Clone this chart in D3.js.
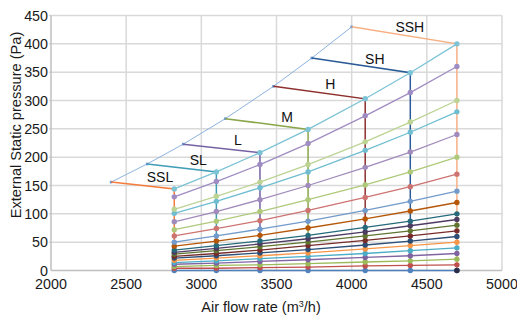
<!DOCTYPE html>
<html>
<head>
<meta charset="utf-8">
<script src="https://cdn.jsdelivr.net/npm/d3@7"></script>
<style>
  html, body { margin: 0; padding: 0; background: #fff; }
  svg { display: block; font-family: "Liberation Sans", Arial, sans-serif; }
</style>
</head>
<body>
<svg id="chart" width="517" height="320"></svg>
<script>
// ---------- DATA ----------
const airflow = [2820, 3100, 3390, 3710, 4090, 4390, 4700];
const xTicks = [2000, 2500, 3000, 3500, 4000, 4500, 5000];
const yTicks = [0, 50, 100, 150, 200, 250, 300, 350, 400, 450];

// resistance curves (static pressure at each airflow column)
const row0   = [0, 0, 0, 0, 0, 0, 0];
const row10  = [4, 4, 5, 6, 8, 9, 10];
const row20  = [7, 9, 10, 12, 15, 17, 20];
const row30  = [11, 13, 16, 19, 23, 26, 30];
const row40  = [14, 17, 21, 25, 30, 35, 40];
const row50  = [18, 22, 26, 31, 38, 44, 50];
const row60  = [22, 26, 31, 37, 45, 52, 60];
const row70  = [25, 30, 36, 44, 53, 61, 70];
const row80  = [29, 35, 42, 50, 61, 70, 80];
const row90  = [32, 39, 47, 56, 68, 79, 90];
const row100 = [36, 44, 52, 62, 76, 87, 100];
const row120 = [43, 52, 62, 75, 91, 105, 120];
const row140 = [50, 61, 73, 87, 106, 122, 140];
const row170 = [61, 74, 88, 106, 129, 148, 170];
const row200 = [72, 87, 104, 125, 151, 174, 200];
const row240 = [86, 104, 125, 150, 182, 209, 240];
const row280 = [101, 122, 146, 174, 212, 244, 280];
const row300 = [108, 131, 156, 187, 227, 262, 300];
const row360 = [130, 157, 187, 224, 273, 314, 360];
const row400 = [144, 174, 208, 249, 303, 349, 400];

const rows = [row0, row10, row20, row30, row40, row50, row60, row70, row80, row90,
              row100, row120, row140, row170, row200, row240, row280, row300, row360, row400];
const rowColors = ["#4f81bd", "#c0504d", "#9bbb59", "#8064a2", "#4bacc6", "#f79646",
                   "#2c4d75", "#772c2a", "#5f7530", "#4d3b62", "#276a7c", "#b65708",
                   "#729aca", "#cd7371", "#afc97a", "#a18bbc", "#6fbdd1", "#bcd394",
                   "#9f8cc2", "#7cc3d5"];

// fan speed settings
const speedNames  = ["SSL", "SL", "L", "M", "H", "SH", "SSH"];
const speedFlow   = [2820, 3100, 3390, 3710, 4090, 4390, 4700];
const speedTop    = [144, 174, 208, 249, 303, 349, 400];
const leaderX     = [2400, 2640, 2880, 3160, 3480, 3735, 4000];
const leaderY     = [156, 188, 223, 268, 325, 375, 430];
const labelX      = [2725, 2980, 3244, 3570, 3858, 4154, 4387];
const labelY      = [157, 186, 221, 262, 320, 365, 421];
const speedColors = ["#f47d3d", "#3f9db5", "#7462a3", "#8aa64a", "#8e2f2e", "#2a5b97", "#f7b084"];

const endMarker = [{x: 4700, y: 0}];

// ---------- CHART ----------
const svg = d3.select("#chart");
const x = d3.scaleLinear().domain([2000, 5000]).range([51, 502]);
const y = d3.scaleLinear().domain([0, 450]).range([270.5, 15.5]);

// gridlines
svg.append("g").selectAll("line").data(yTicks.filter(d => d > 0)).join("line")
  .attr("x1", x(2000) - 2).attr("x2", x(5000))
  .attr("y1", d => y(d)).attr("y2", d => y(d))
  .attr("stroke", "#d9d9d9").attr("stroke-width", 1.5);
svg.append("g").selectAll("line").data(xTicks.filter(d => d > 2000)).join("line")
  .attr("x1", d => x(d)).attr("x2", d => x(d))
  .attr("y1", y(0)).attr("y2", y(450))
  .attr("stroke", "#d9d9d9").attr("stroke-width", 1.5);
// axes lines
svg.append("line").attr("x1", x(2000)).attr("x2", x(2000)).attr("y1", y(0)).attr("y2", y(450))
  .attr("stroke", "#bfbfbf").attr("stroke-width", 1.5);
svg.append("line").attr("x1", x(2000)).attr("x2", x(5000)).attr("y1", y(0)).attr("y2", y(0))
  .attr("stroke", "#bfbfbf").attr("stroke-width", 1.5);

// tick labels
svg.append("g").selectAll("text").data(yTicks).join("text")
  .attr("x", 48).attr("y", d => y(d)).attr("dy", "0.36em")
  .attr("text-anchor", "end").attr("font-size", "14.3px").attr("fill", "#1a1a1a")
  .text(d => d);
svg.append("g").selectAll("text").data(xTicks).join("text")
  .attr("x", d => x(d)).attr("y", 289)
  .attr("text-anchor", "middle").attr("font-size", "14.3px").attr("fill", "#1a1a1a")
  .text(d => d);

// axis titles
const xt = svg.append("text").attr("x", 261).attr("y", 312)
  .attr("text-anchor", "middle").attr("font-size", "14.5px").attr("fill", "#1a1a1a");
xt.append("tspan").text("Air flow rate (m");
xt.append("tspan").attr("font-size", "9px").attr("dy", "-5").text("3");
xt.append("tspan").attr("dy", "5").text("/h)");
svg.append("text").attr("transform", "translate(21,125) rotate(-90)")
  .attr("text-anchor", "middle").attr("font-size", "14.6px").attr("fill", "#1a1a1a")
  .text("External Static pressure (Pa)");

const line = d3.line().x(d => x(d[0])).y(d => y(d[1]));

// diagonal guide line
const diag = leaderX.map((v, i) => [v, leaderY[i]]);
svg.append("path").attr("d", line(diag)).attr("fill", "none")
  .attr("stroke", "#8db3e0").attr("stroke-width", 1);
svg.append("g").selectAll("rect").data(diag).join("rect")
  .attr("x", d => x(d[0]) - 1.3).attr("y", d => y(d[1]) - 1.3)
  .attr("width", 2.6).attr("height", 2.6).attr("fill", "#6d97cc");

// fan speed series: leader -> top -> bottom
speedNames.forEach((name, i) => {
  const pts = [[leaderX[i], leaderY[i]], [speedFlow[i], speedTop[i]], [speedFlow[i], 0]];
  svg.append("path").attr("d", line(pts)).attr("fill", "none")
    .attr("stroke", speedColors[i]).attr("stroke-width", 1.5);
});

// resistance curves
rows.forEach((vals, i) => {
  const pts = airflow.map((a, j) => [a, vals[j]]);
  svg.append("path").attr("d", line(pts)).attr("fill", "none")
    .attr("stroke", rowColors[i]).attr("stroke-width", 1.3);
});
rows.forEach((vals, i) => {
  const pts = airflow.map((a, j) => [a, vals[j]]);
  svg.append("g").selectAll("circle").data(pts).join("circle")
    .attr("cx", d => x(d[0])).attr("cy", d => y(d[1])).attr("r", 2.7)
    .attr("fill", rowColors[i]);
});
svg.append("g").selectAll("circle").data(endMarker).join("circle")
  .attr("cx", d => x(d.x)).attr("cy", d => y(d.y)).attr("r", 2.8).attr("fill", "#2b2d48");

// speed labels
svg.append("g").selectAll("text").data(speedNames).join("text")
  .attr("x", (d, i) => x(labelX[i])).attr("y", (d, i) => y(labelY[i]))
  .attr("text-anchor", "middle").attr("font-size", "14px").attr("fill", "#111")
  .text(d => d);
</script>
</body>
</html>
